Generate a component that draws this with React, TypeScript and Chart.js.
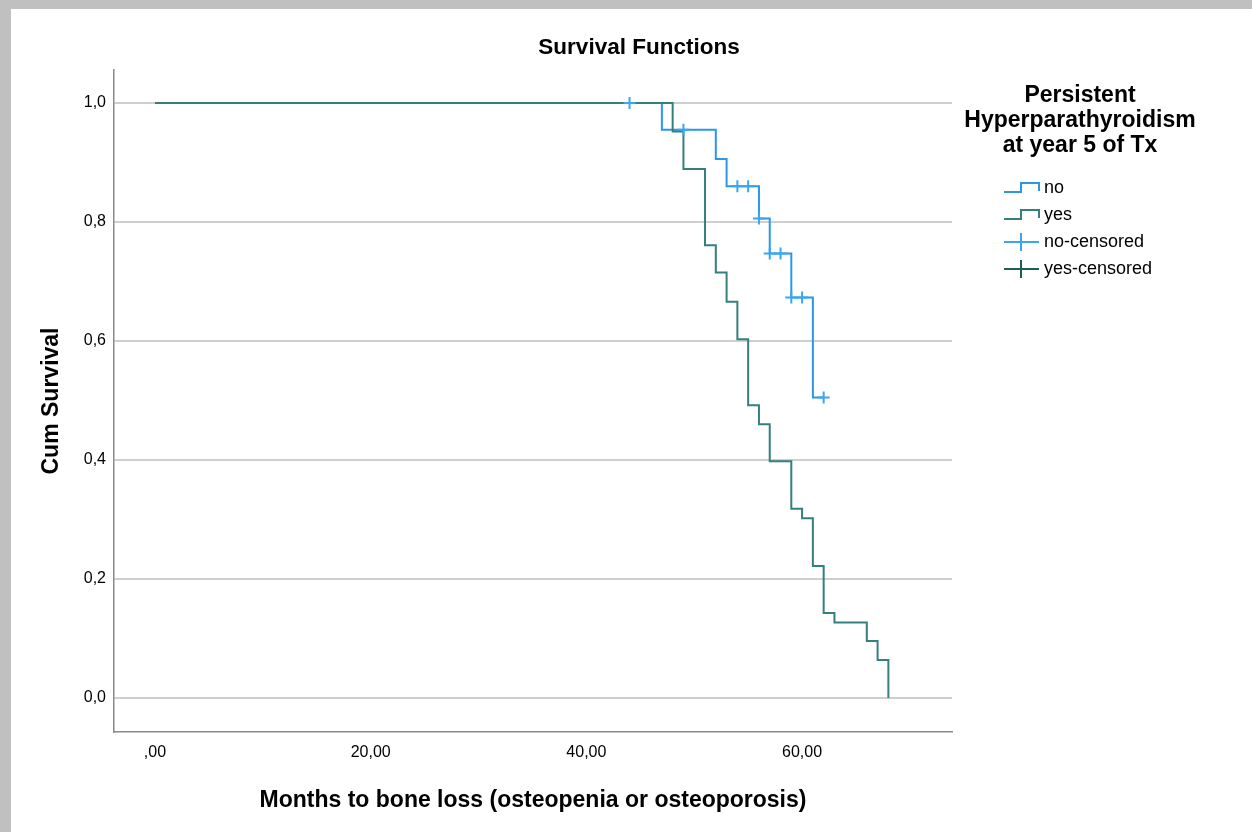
import React, { useEffect, useRef } from "react";
import { Chart, registerables } from "chart.js";

Chart.register(...registerables);

// ---- data ----
const noTimes = [0, 47, 52, 53, 56, 57, 59, 61, 62];
const noSurv = [1, 0.955, 0.906, 0.86, 0.806, 0.747, 0.673, 0.505, 0.505];

const yesTimes = [0, 48, 49, 51, 52, 53, 54, 55, 56, 57, 59, 60, 61, 62, 63, 66, 67, 68];
const yesSurv = [1, 0.952, 0.889, 0.761, 0.715, 0.666, 0.603, 0.492, 0.46, 0.398, 0.318, 0.302, 0.222, 0.143, 0.127, 0.096, 0.064, 0];

const noCensTimes = [44, 49, 54, 55, 56, 57, 58, 59, 60, 62];
const noCensSurv = [1, 0.955, 0.86, 0.86, 0.806, 0.747, 0.747, 0.673, 0.673, 0.505];

const yesCensTimes: number[] = [];
const yesCensSurv: number[] = [];

const yTicks = [0, 0.2, 0.4, 0.6, 0.8, 1.0];
const yTickLabels = ["0,0", "0,2", "0,4", "0,6", "0,8", "1,0"];
const xTicks = [0, 20, 40, 60];
const xTickLabels = [",00", "20,00", "40,00", "60,00"];

const chartTitle = "Survival Functions";
const xTitle = "Months to bone loss (osteopenia or osteoporosis)";
const yTitle = "Cum Survival";
const legendTitle = ["Persistent", "Hyperparathyroidism", "at year 5 of Tx"];
const legendLabels = ["no", "yes", "no-censored", "yes-censored"];

// ---- styles ----
const FONT = "'Liberation Sans', Arial, sans-serif";
const NO_COLOR = "#2a97e8";
const YES_COLOR = "#357f7d";
const NO_CENS_COLOR = "#3aa6f2";
const YES_CENS_COLOR = "#1d5f57";

const toPts = (xs: number[], ys: number[]) => xs.map((x, i) => ({ x, y: ys[i] }));

const overlayPlugin = {
  id: "kmOverlay",
  afterDraw(chart: any) {
    const ctx = chart.ctx as CanvasRenderingContext2D;
    ctx.save();
    ctx.fillStyle = "#000";
    ctx.textAlign = "center";
    ctx.textBaseline = "middle";
    // chart title
    ctx.font = `bold 22.5px ${FONT}`;
    ctx.fillText(chartTitle, 639, 48);
    // legend title
    ctx.font = `bold 23px ${FONT}`;
    legendTitle.forEach((t, i) => ctx.fillText(t, 1080, 96 + i * 25));
    // legend items
    const colors = [NO_COLOR, YES_COLOR, NO_CENS_COLOR, YES_CENS_COLOR];
    const rowY = [188, 215, 242, 269];
    const x0 = 1004;
    const x1 = 1039;
    ctx.lineWidth = 2;
    legendLabels.forEach((lab, i) => {
      const y = rowY[i];
      ctx.strokeStyle = colors[i];
      ctx.beginPath();
      if (i < 2) {
        ctx.moveTo(x0, y + 4);
        ctx.lineTo(x0 + 17, y + 4);
        ctx.lineTo(x0 + 17, y - 5);
        ctx.lineTo(x1, y - 5);
        ctx.lineTo(x1, y + 3);
      } else {
        ctx.moveTo(x0, y);
        ctx.lineTo(x1, y);
        ctx.moveTo(x0 + 17, y - 9);
        ctx.lineTo(x0 + 17, y + 9);
      }
      ctx.stroke();
      ctx.fillStyle = "#000";
      ctx.textAlign = "left";
      ctx.font = `18px ${FONT}`;
      ctx.fillText(lab, 1044, y);
    });
    ctx.restore();
  },
};

export default function App() {
  const ref = useRef<HTMLCanvasElement | null>(null);

  useEffect(() => {
    if (!ref.current) return;
    const chart = new Chart(ref.current, {
      type: "scatter",
      data: {
        datasets: [
          {
            label: "no-censored",
            data: toPts(noCensTimes, noCensSurv),
            showLine: false,
            pointStyle: "cross",
            pointRadius: 6,
            pointBorderWidth: 2,
            borderColor: NO_CENS_COLOR,
            backgroundColor: NO_CENS_COLOR,
          },
          {
            label: "yes-censored",
            data: toPts(yesCensTimes, yesCensSurv),
            showLine: false,
            pointStyle: "cross",
            pointRadius: 6,
            pointBorderWidth: 2,
            borderColor: YES_CENS_COLOR,
            backgroundColor: YES_CENS_COLOR,
          },
          {
            label: "yes",
            data: toPts(yesTimes, yesSurv),
            showLine: true,
            stepped: "before",
            pointRadius: 0,
            borderWidth: 2,
            borderColor: YES_COLOR,
            backgroundColor: YES_COLOR,
            fill: false,
          },
          {
            label: "no",
            data: toPts(noTimes, noSurv),
            showLine: true,
            stepped: "before",
            pointRadius: 0,
            borderWidth: 2,
            borderColor: NO_COLOR,
            backgroundColor: NO_COLOR,
            fill: false,
          },
        ],
      },
      options: {
        responsive: false,
        animation: false,
        layout: { padding: { left: 0, right: 300, top: 70, bottom: 0 } },
        plugins: {
          legend: { display: false },
          title: { display: false },
          tooltip: { enabled: false },
        },
        scales: {
          x: {
            type: "linear",
            min: -3.8,
            max: 73.9,
            afterBuildTicks: (s: any) => {
              s.ticks = xTicks.map((v) => ({ value: v }));
            },
            afterFit: (s: any) => {
              s.height = 100;
            },
            grid: { display: false, drawTicks: false },
            border: { display: true, color: "#8a8a8a", width: 1.5 },
            ticks: {
              autoSkip: false,
              maxRotation: 0,
              padding: 11,
              color: "#000",
              font: { family: FONT, size: 16 },
              callback: (v: any) => xTickLabels[xTicks.indexOf(Number(v))],
            },
            title: {
              display: true,
              text: xTitle,
              color: "#000",
              font: { family: FONT, size: 23, weight: "bold" },
              padding: { top: 0, bottom: 18 },
            },
          },
          y: {
            type: "linear",
            min: -0.057,
            max: 1.0555,
            afterBuildTicks: (s: any) => {
              s.ticks = yTicks.map((v) => ({ value: v }));
            },
            afterFit: (s: any) => {
              s.width = 114;
            },
            grid: { display: true, drawTicks: false, color: "#cfcfcf", lineWidth: 2 },
            border: { display: true, color: "#8a8a8a", width: 1.5 },
            ticks: {
              padding: 8,
              color: "#000",
              font: { family: FONT, size: 16 },
              callback: (v: any) => yTickLabels[yTicks.indexOf(Number(v))],
            },
            title: {
              display: true,
              text: yTitle,
              color: "#000",
              font: { family: FONT, size: 23, weight: "bold" },
              padding: { top: 38, bottom: 0 },
            },
          },
        },
      },
      plugins: [overlayPlugin],
    } as any);
    return () => chart.destroy();
  }, []);

  return (
    <div style={{ position: "fixed", left: 0, top: 0, width: 1252, height: 832, background: "#c0c0c0" }}>
      <div style={{ position: "absolute", left: 11, top: 9, right: 0, bottom: 0, background: "#ffffff" }} />
      <canvas ref={ref} width={1252} height={832} style={{ position: "absolute", left: 0, top: 0 }} />
    </div>
  );
}
